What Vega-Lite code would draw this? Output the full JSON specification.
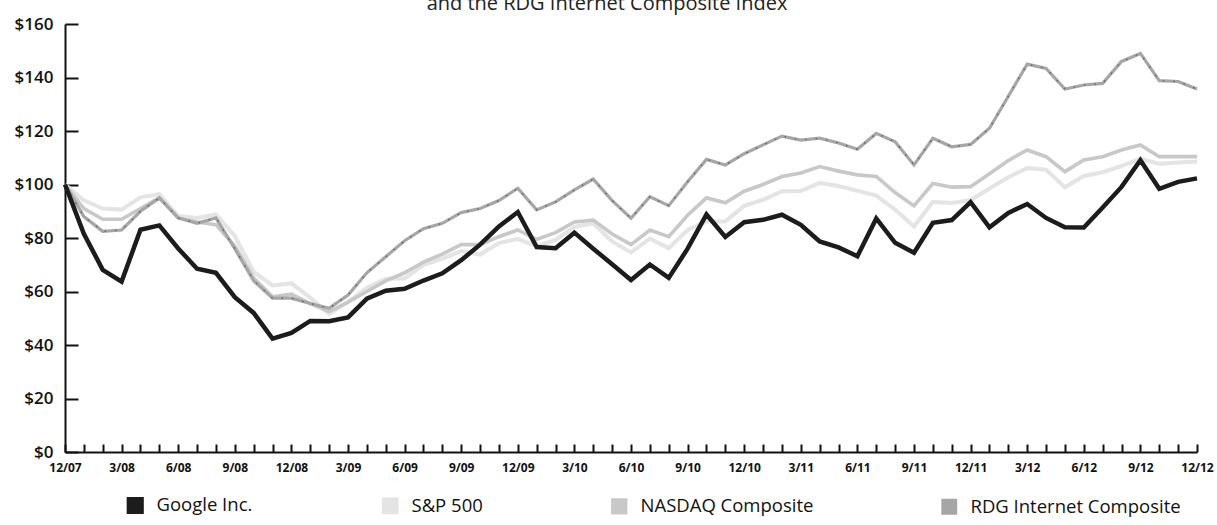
{
  "$schema": "https://vega.github.io/schema/vega-lite/v6.json",
  "autosize": {"type": "none"},
  "width": 1132,
  "height": 428,
  "padding": {"left": 65, "top": 24, "right": 20, "bottom": 73},
  "background": "white",
  "title": {
    "text": "and the RDG Internet Composite Index",
    "fontSize": 20,
    "font": "Open Sans",
    "fontWeight": "normal",
    "color": "#222",
    "baseline": "bottom",
    "offset": -19,
    "dx": -24
  },
  "config": {
    "view": {"stroke": null},
    "axis": {
      "labelFont": "Open Sans",
      "labelFontWeight": 600,
      "labelColor": "#111",
      "domainColor": "#111",
      "domainWidth": 2,
      "tickColor": "#111",
      "tickWidth": 2,
      "grid": false,
      "title": null
    }
  },
  "data": {
    "values": [
      {"m":0,"s":"S&P 500","v":100},{"m":1,"s":"S&P 500","v":94.1},{"m":2,"s":"S&P 500","v":91.0},{"m":3,"s":"S&P 500","v":90.6},{"m":4,"s":"S&P 500","v":95.2},{"m":5,"s":"S&P 500","v":96.4},{"m":6,"s":"S&P 500","v":88.2},{"m":7,"s":"S&P 500","v":87.5},{"m":8,"s":"S&P 500","v":88.8},{"m":9,"s":"S&P 500","v":80.8},{"m":10,"s":"S&P 500","v":67.3},{"m":11,"s":"S&P 500","v":62.3},{"m":12,"s":"S&P 500","v":63.0},{"m":13,"s":"S&P 500","v":57.7},{"m":14,"s":"S&P 500","v":51.6},{"m":15,"s":"S&P 500","v":56.0},{"m":16,"s":"S&P 500","v":61.4},{"m":17,"s":"S&P 500","v":64.8},{"m":18,"s":"S&P 500","v":64.9},{"m":19,"s":"S&P 500","v":69.9},{"m":20,"s":"S&P 500","v":72.3},{"m":21,"s":"S&P 500","v":75.1},{"m":22,"s":"S&P 500","v":73.8},{"m":23,"s":"S&P 500","v":78.1},{"m":24,"s":"S&P 500","v":79.7},{"m":25,"s":"S&P 500","v":76.9},{"m":26,"s":"S&P 500","v":79.3},{"m":27,"s":"S&P 500","v":84.1},{"m":28,"s":"S&P 500","v":85.5},{"m":29,"s":"S&P 500","v":78.7},{"m":30,"s":"S&P 500","v":74.6},{"m":31,"s":"S&P 500","v":79.8},{"m":32,"s":"S&P 500","v":76.2},{"m":33,"s":"S&P 500","v":83.0},{"m":34,"s":"S&P 500","v":86.2},{"m":35,"s":"S&P 500","v":86.2},{"m":36,"s":"S&P 500","v":92.0},{"m":37,"s":"S&P 500","v":94.3},{"m":38,"s":"S&P 500","v":97.5},{"m":39,"s":"S&P 500","v":97.6},{"m":40,"s":"S&P 500","v":100.6},{"m":41,"s":"S&P 500","v":99.4},{"m":42,"s":"S&P 500","v":97.7},{"m":43,"s":"S&P 500","v":95.8},{"m":44,"s":"S&P 500","v":90.6},{"m":45,"s":"S&P 500","v":84.3},{"m":46,"s":"S&P 500","v":93.5},{"m":47,"s":"S&P 500","v":93.1},{"m":48,"s":"S&P 500","v":94.2},{"m":49,"s":"S&P 500","v":98.5},{"m":50,"s":"S&P 500","v":102.7},{"m":51,"s":"S&P 500","v":106.1},{"m":52,"s":"S&P 500","v":105.5},{"m":53,"s":"S&P 500","v":99.0},{"m":54,"s":"S&P 500","v":103.2},{"m":55,"s":"S&P 500","v":104.6},{"m":56,"s":"S&P 500","v":106.9},{"m":57,"s":"S&P 500","v":109.7},{"m":58,"s":"S&P 500","v":107.7},{"m":59,"s":"S&P 500","v":108.2},{"m":60,"s":"S&P 500","v":108.6},
      {"m":0,"s":"NASDAQ Composite","v":100},{"m":1,"s":"NASDAQ Composite","v":91},{"m":2,"s":"NASDAQ Composite","v":87},{"m":3,"s":"NASDAQ Composite","v":87},{"m":4,"s":"NASDAQ Composite","v":91},{"m":5,"s":"NASDAQ Composite","v":95},{"m":6,"s":"NASDAQ Composite","v":87.5},{"m":7,"s":"NASDAQ Composite","v":86},{"m":8,"s":"NASDAQ Composite","v":85},{"m":9,"s":"NASDAQ Composite","v":77},{"m":10,"s":"NASDAQ Composite","v":65},{"m":11,"s":"NASDAQ Composite","v":58},{"m":12,"s":"NASDAQ Composite","v":59},{"m":13,"s":"NASDAQ Composite","v":55.5},{"m":14,"s":"NASDAQ Composite","v":52.5},{"m":15,"s":"NASDAQ Composite","v":56},{"m":16,"s":"NASDAQ Composite","v":60},{"m":17,"s":"NASDAQ Composite","v":64},{"m":18,"s":"NASDAQ Composite","v":67},{"m":19,"s":"NASDAQ Composite","v":71},{"m":20,"s":"NASDAQ Composite","v":74},{"m":21,"s":"NASDAQ Composite","v":77.5},{"m":22,"s":"NASDAQ Composite","v":77.5},{"m":23,"s":"NASDAQ Composite","v":80.5},{"m":24,"s":"NASDAQ Composite","v":83},{"m":25,"s":"NASDAQ Composite","v":79.5},{"m":26,"s":"NASDAQ Composite","v":82},{"m":27,"s":"NASDAQ Composite","v":86},{"m":28,"s":"NASDAQ Composite","v":86.7},{"m":29,"s":"NASDAQ Composite","v":81.5},{"m":30,"s":"NASDAQ Composite","v":77.5},{"m":31,"s":"NASDAQ Composite","v":83},{"m":32,"s":"NASDAQ Composite","v":80.5},{"m":33,"s":"NASDAQ Composite","v":88.5},{"m":34,"s":"NASDAQ Composite","v":95},{"m":35,"s":"NASDAQ Composite","v":93.2},{"m":36,"s":"NASDAQ Composite","v":97.5},{"m":37,"s":"NASDAQ Composite","v":100},{"m":38,"s":"NASDAQ Composite","v":103},{"m":39,"s":"NASDAQ Composite","v":104.3},{"m":40,"s":"NASDAQ Composite","v":106.7},{"m":41,"s":"NASDAQ Composite","v":105},{"m":42,"s":"NASDAQ Composite","v":103.6},{"m":43,"s":"NASDAQ Composite","v":103},{"m":44,"s":"NASDAQ Composite","v":97},{"m":45,"s":"NASDAQ Composite","v":92},{"m":46,"s":"NASDAQ Composite","v":100.4},{"m":47,"s":"NASDAQ Composite","v":99},{"m":48,"s":"NASDAQ Composite","v":99.2},{"m":49,"s":"NASDAQ Composite","v":104},{"m":50,"s":"NASDAQ Composite","v":109},{"m":51,"s":"NASDAQ Composite","v":112.9},{"m":52,"s":"NASDAQ Composite","v":110.4},{"m":53,"s":"NASDAQ Composite","v":104.8},{"m":54,"s":"NASDAQ Composite","v":109.2},{"m":55,"s":"NASDAQ Composite","v":110.4},{"m":56,"s":"NASDAQ Composite","v":112.9},{"m":57,"s":"NASDAQ Composite","v":114.8},{"m":58,"s":"NASDAQ Composite","v":110.4},{"m":59,"s":"NASDAQ Composite","v":110.4},{"m":60,"s":"NASDAQ Composite","v":110.4},
      {"m":0,"s":"RDG Internet Composite","v":100},{"m":1,"s":"RDG Internet Composite","v":88},{"m":2,"s":"RDG Internet Composite","v":82.5},{"m":3,"s":"RDG Internet Composite","v":83},{"m":4,"s":"RDG Internet Composite","v":90},{"m":5,"s":"RDG Internet Composite","v":95},{"m":6,"s":"RDG Internet Composite","v":87.5},{"m":7,"s":"RDG Internet Composite","v":85.5},{"m":8,"s":"RDG Internet Composite","v":87.5},{"m":9,"s":"RDG Internet Composite","v":76},{"m":10,"s":"RDG Internet Composite","v":64},{"m":11,"s":"RDG Internet Composite","v":57.5},{"m":12,"s":"RDG Internet Composite","v":57.5},{"m":13,"s":"RDG Internet Composite","v":55.5},{"m":14,"s":"RDG Internet Composite","v":53.7},{"m":15,"s":"RDG Internet Composite","v":58.7},{"m":16,"s":"RDG Internet Composite","v":67},{"m":17,"s":"RDG Internet Composite","v":73},{"m":18,"s":"RDG Internet Composite","v":79},{"m":19,"s":"RDG Internet Composite","v":83.5},{"m":20,"s":"RDG Internet Composite","v":85.5},{"m":21,"s":"RDG Internet Composite","v":89.5},{"m":22,"s":"RDG Internet Composite","v":91},{"m":23,"s":"RDG Internet Composite","v":94},{"m":24,"s":"RDG Internet Composite","v":98.6},{"m":25,"s":"RDG Internet Composite","v":90.5},{"m":26,"s":"RDG Internet Composite","v":93.5},{"m":27,"s":"RDG Internet Composite","v":98},{"m":28,"s":"RDG Internet Composite","v":102},{"m":29,"s":"RDG Internet Composite","v":94},{"m":30,"s":"RDG Internet Composite","v":87.4},{"m":31,"s":"RDG Internet Composite","v":95.4},{"m":32,"s":"RDG Internet Composite","v":92.1},{"m":33,"s":"RDG Internet Composite","v":101},{"m":34,"s":"RDG Internet Composite","v":109.4},{"m":35,"s":"RDG Internet Composite","v":107.3},{"m":36,"s":"RDG Internet Composite","v":111.5},{"m":37,"s":"RDG Internet Composite","v":114.8},{"m":38,"s":"RDG Internet Composite","v":118.1},{"m":39,"s":"RDG Internet Composite","v":116.6},{"m":40,"s":"RDG Internet Composite","v":117.3},{"m":41,"s":"RDG Internet Composite","v":115.5},{"m":42,"s":"RDG Internet Composite","v":113.2},{"m":43,"s":"RDG Internet Composite","v":119.1},{"m":44,"s":"RDG Internet Composite","v":116},{"m":45,"s":"RDG Internet Composite","v":107.3},{"m":46,"s":"RDG Internet Composite","v":117.3},{"m":47,"s":"RDG Internet Composite","v":114.1},{"m":48,"s":"RDG Internet Composite","v":115},{"m":49,"s":"RDG Internet Composite","v":121},{"m":50,"s":"RDG Internet Composite","v":133},{"m":51,"s":"RDG Internet Composite","v":145},{"m":52,"s":"RDG Internet Composite","v":143.4},{"m":53,"s":"RDG Internet Composite","v":135.7},{"m":54,"s":"RDG Internet Composite","v":137.2},{"m":55,"s":"RDG Internet Composite","v":137.8},{"m":56,"s":"RDG Internet Composite","v":146},{"m":57,"s":"RDG Internet Composite","v":149},{"m":58,"s":"RDG Internet Composite","v":138.8},{"m":59,"s":"RDG Internet Composite","v":138.5},{"m":60,"s":"RDG Internet Composite","v":135.7},
      {"m":0,"s":"Google Inc.","v":100},{"m":1,"s":"Google Inc.","v":81.6},{"m":2,"s":"Google Inc.","v":68.1},{"m":3,"s":"Google Inc.","v":63.7},{"m":4,"s":"Google Inc.","v":83.1},{"m":5,"s":"Google Inc.","v":84.7},{"m":6,"s":"Google Inc.","v":76.1},{"m":7,"s":"Google Inc.","v":68.5},{"m":8,"s":"Google Inc.","v":67.0},{"m":9,"s":"Google Inc.","v":57.9},{"m":10,"s":"Google Inc.","v":52.0},{"m":11,"s":"Google Inc.","v":42.4},{"m":12,"s":"Google Inc.","v":44.5},{"m":13,"s":"Google Inc.","v":49.0},{"m":14,"s":"Google Inc.","v":48.9},{"m":15,"s":"Google Inc.","v":50.3},{"m":16,"s":"Google Inc.","v":57.3},{"m":17,"s":"Google Inc.","v":60.3},{"m":18,"s":"Google Inc.","v":61.0},{"m":19,"s":"Google Inc.","v":64.1},{"m":20,"s":"Google Inc.","v":66.8},{"m":21,"s":"Google Inc.","v":71.7},{"m":22,"s":"Google Inc.","v":77.5},{"m":23,"s":"Google Inc.","v":84.3},{"m":24,"s":"Google Inc.","v":89.7},{"m":25,"s":"Google Inc.","v":76.6},{"m":26,"s":"Google Inc.","v":76.2},{"m":27,"s":"Google Inc.","v":82.0},{"m":28,"s":"Google Inc.","v":76.0},{"m":29,"s":"Google Inc.","v":70.2},{"m":30,"s":"Google Inc.","v":64.3},{"m":31,"s":"Google Inc.","v":70.1},{"m":32,"s":"Google Inc.","v":65.1},{"m":33,"s":"Google Inc.","v":76.0},{"m":34,"s":"Google Inc.","v":88.8},{"m":35,"s":"Google Inc.","v":80.4},{"m":36,"s":"Google Inc.","v":85.9},{"m":37,"s":"Google Inc.","v":86.8},{"m":38,"s":"Google Inc.","v":88.7},{"m":39,"s":"Google Inc.","v":84.9},{"m":40,"s":"Google Inc.","v":78.7},{"m":41,"s":"Google Inc.","v":76.5},{"m":42,"s":"Google Inc.","v":73.2},{"m":43,"s":"Google Inc.","v":87.3},{"m":44,"s":"Google Inc.","v":78.2},{"m":45,"s":"Google Inc.","v":74.5},{"m":46,"s":"Google Inc.","v":85.7},{"m":47,"s":"Google Inc.","v":86.7},{"m":48,"s":"Google Inc.","v":93.4},{"m":49,"s":"Google Inc.","v":84.0},{"m":50,"s":"Google Inc.","v":89.4},{"m":51,"s":"Google Inc.","v":92.7},{"m":52,"s":"Google Inc.","v":87.5},{"m":53,"s":"Google Inc.","v":84.0},{"m":54,"s":"Google Inc.","v":83.9},{"m":55,"s":"Google Inc.","v":91.4},{"m":56,"s":"Google Inc.","v":99.1},{"m":57,"s":"Google Inc.","v":109.1},{"m":58,"s":"Google Inc.","v":98.4},{"m":59,"s":"Google Inc.","v":101.0},{"m":60,"s":"Google Inc.","v":102.3}
    ]
  },
  "encoding": {
    "x": {
      "field": "m",
      "type": "quantitative",
      "scale": {"domain": [0, 60], "nice": false, "zero": false},
      "axis": {
        "values": [0,1,2,3,4,5,6,7,8,9,10,11,12,13,14,15,16,17,18,19,20,21,22,23,24,25,26,27,28,29,30,31,32,33,34,35,36,37,38,39,40,41,42,43,44,45,46,47,48,49,50,51,52,53,54,55,56,57,58,59,60],
        "labelExpr": "datum.value % 3 == 0 ? ((11 + datum.value) % 12 + 1) + '/' + ((7 + floor((11 + datum.value) / 12)) < 10 ? '0' : '') + (7 + floor((11 + datum.value) / 12)) : ''",
        "tickSize": -8,
        "labelPadding": 18,
        "labelFontSize": 12,
        "labelFontWeight": "bold",
        "labelOverlap": false,
        "labelFlush": false
      }
    },
    "y": {
      "field": "v",
      "type": "quantitative",
      "scale": {"domain": [0, 160], "nice": false},
      "axis": {
        "values": [0, 20, 40, 60, 80, 100, 120, 140, 160],
        "labelExpr": "'$' + datum.value",
        "tickSize": -13,
        "labelPadding": 25,
        "labelFontSize": 17
      }
    }
  },
  "layer": [
    {
      "mark": {"type": "line", "strokeJoin": "miter", "strokeCap": "butt"},
      "encoding": {
        "color": {
          "field": "s",
          "type": "nominal",
          "scale": {
            "domain": ["Google Inc.", "S&P 500", "NASDAQ Composite", "RDG Internet Composite"],
            "range": ["#1c1c1c", "#e4e4e4", "#c8c8c8", "#a6a6a6"]
          },
          "legend": {
            "orient": "none",
            "legendX": 61,
            "legendY": 472,
            "direction": "horizontal",
            "columns": 4,
            "title": null,
            "symbolType": "square",
            "symbolSize": 160,
            "labelFont": "Open Sans",
            "labelFontSize": 18.5,
            "labelColor": "#111",
            "labelLimit": 400,
            "columnPadding": 122,
            "labelOffset": 12,
            "encode": {
              "symbols": {
                "update": {
                  "fill": {"scale": "color", "field": "value"},
                  "strokeWidth": {"value": 0}
                }
              }
            }
          }
        },
        "strokeWidth": {
          "field": "s",
          "type": "nominal",
          "scale": {
            "domain": ["Google Inc.", "S&P 500", "NASDAQ Composite", "RDG Internet Composite"],
            "range": [4.5, 3.2, 3.2, 3.2]
          },
          "legend": null
        },
        "order": {"field": "m"}
      }
    },
    {
      "transform": [{"filter": "datum.s == 'RDG Internet Composite'"}],
      "mark": {"type": "line", "color": "#222", "strokeWidth": 1.4, "strokeDash": [1.5, 9], "opacity": 0.5},
      "encoding": {"order": {"field": "m"}}
    }
  ]
}
